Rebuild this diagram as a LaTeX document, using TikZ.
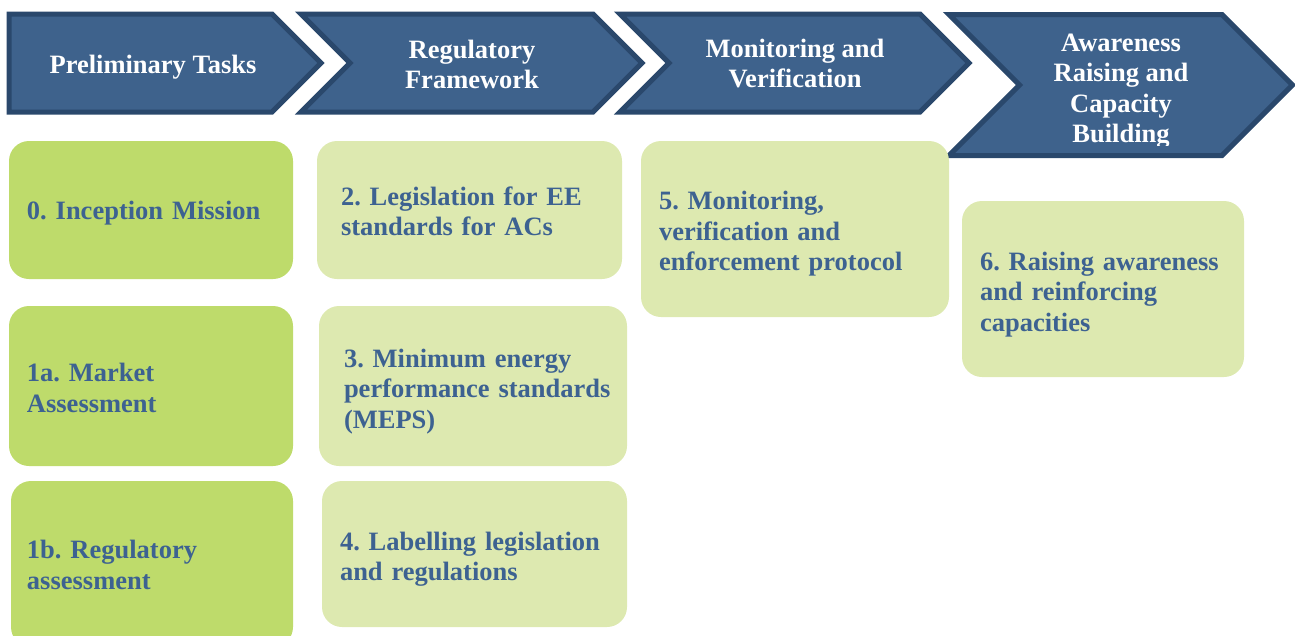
\documentclass[tikz,border=0pt]{standalone}
\usepackage{fontspec}
\setmainfont{Liberation Serif}
\frenchspacing
\definecolor{phase}{RGB}{62, 98, 140}
\definecolor{phaseline}{RGB}{42, 72, 108}
\definecolor{early}{RGB}{190, 219, 107}
\definecolor{later}{RGB}{221, 233, 176}
\definecolor{tasktext}{RGB}{61, 98, 145}

\begin{document}
\begin{tikzpicture}[x=1pt, y=-1pt,
    every node/.style={font=\fontsize{26.5}{30.5}\selectfont\bfseries},
    chevron/.style={draw=phaseline, fill=phase, line width=5},
    head/.style={text=white, align=center, inner sep=0, text depth=0pt},
    task/.style={rounded corners=20, inner xsep=18pt, inner ysep=0pt,
      align=left, text=tasktext},
    lift/.style={execute at begin node={\rule{0pt}{#1}}}]
  \useasboundingbox (0, 0) rectangle (1295, 635);

  % phases along the top
  \filldraw[chevron] (9, 14) -- (272, 14) -- (321, 63) -- (272, 112) -- (9, 112) -- cycle;
  \filldraw[chevron] (301, 14) -- (593, 14) -- (642, 63) -- (593, 112) -- (301, 112) -- (350, 63) -- cycle;
  \filldraw[chevron] (620, 14) -- (920, 14) -- (969, 63) -- (920, 112) -- (620, 112) -- (669, 63) -- cycle;
  \filldraw[chevron] (949, 14.5) -- (1222, 14.5) -- (1292.5, 85) -- (1222, 155.5) -- (949, 155.5) -- (1019.5, 85) -- cycle;

  \node[head] (prelim) at (153, 64) {Preliminary Tasks};
  \node[head] (regul) at (472, 64.5) {Regulatory\\Framework};
  \node[head] (monit) at (795, 63.5) {Monitoring and\\Verification};
  \begin{scope}
    \clip (949, 14) rectangle (1295, 145);
    \node[head] (aware) at (1121, 88) {Awareness\\Raising and\\Capacity\\Building};
  \end{scope}

  % preliminary tasks
  \node[task, fill=early, text depth=0pt, text width=248pt, minimum height=138pt] (t0) at (151, 210)
    {0. Inception Mission};
  \node[task, fill=early, lift=22pt, text width=248pt, minimum height=160pt] (t1a) at (151, 386)
    {1a. Market\\Assessment};
  \node[task, fill=early, lift=20pt, inner xsep=16pt, text width=250pt, minimum height=166pt] (t1b) at (152, 564)
    {1b. Regulatory\\assessment};

  % regulatory framework
  \node[task, fill=later, lift=21pt, inner xsep=24pt, text width=257pt, minimum height=138pt] (t2) at (469.5, 210)
    {2. Legislation for EE\\standards for ACs};
  \node[task, fill=later, lift=29pt, inner xsep=25pt, text width=258pt, minimum height=160pt] (t3) at (473, 386)
    {3. Minimum energy\\\mbox{performance standards}\\(MEPS)};
  \node[task, fill=later, lift=29pt, text width=269pt, minimum height=146pt] (t4) at (474.5, 554)
    {4. Labelling legislation\\and regulations};

  % monitoring and awareness
  \node[task, fill=later, lift=28pt, text width=272pt, minimum height=176pt] (t5) at (795, 229)
    {5. Monitoring,\\verification and\\enforcement protocol};
  \node[task, fill=later, lift=29pt, text width=246pt, minimum height=176pt] (t6) at (1103, 289)
    {6. Raising awareness\\and reinforcing\\capacities};
\end{tikzpicture}
\end{document}
